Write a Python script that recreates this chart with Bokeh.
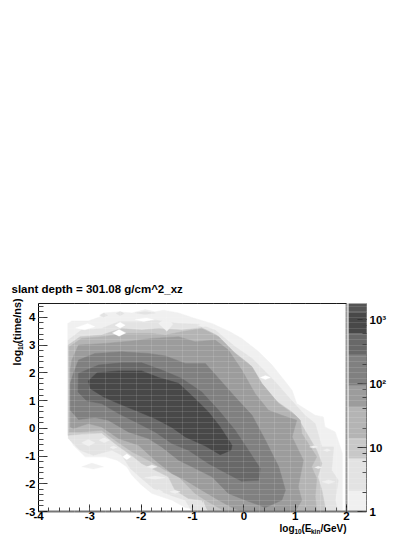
from bokeh.plotting import figure
from bokeh.models import Range1d, LogScale, LogAxis, LinearAxis, FixedTicker, LogTicker, Label
from bokeh.embed import file_html
from bokeh.resources import INLINE
import math

# colour levels of the histogram (counts) and palette, low to high
level_edges = [1, 2.1, 6.7, 13.8, 42, 92, 280, 600, 1270, 1780]
level_colors = ["#f0f0f0", "#e3e3e3", "#c8c8c8", "#b4b4b4", "#9c9c9c", "#808080", "#686868", "#484848", "#555555"]

# contours of log10(time/ns) vs log10(Ekin/GeV), one per level
contour_1 = [(-3.43,-.25),(-3.43,3.78),(-3.35,3.87),(-3.03,3.87),(-2.80,4.02),(-2.73,4.16),(-2.44,4.20),(-2.18,4.16),(-1.92,4.28),(-1.73,4.20),(-1.56,4.26),(-1.27,4.16),(-.95,3.96),(-.62,3.78),(-.27,3.48),(-.04,3.24),(.29,2.76),(.55,2.28),(.81,1.68),(.94,1.37),(1.03,.89),(1.39,.47),(1.55,.41),(1.58,.05),(1.78,-.13),(1.88,-.67),(1.92,-.91),(1.92,-2.93),(1.84,-3),(-.75,-3),(-1.14,-2.86),(-1.40,-2.59),(-1.79,-2.35),(-1.99,-2.05),(-2.18,-1.69),(-2.28,-1.39),(-2.47,-1.15),(-2.70,-1.03),(-3.09,-1.03),(-3.32,-.61)]
contour_2 = [(-3.42,-.37),(-3.42,3.18),(-3.16,3.54),(-2.77,3.60),(-2.44,3.84),(-1.99,3.84),(-1.73,3.90),(-1.27,3.78),(-.88,3.75),(-.56,3.54),(-.17,2.94),(.16,2.52),(.42,2.04),(.61,1.68),(.87,1.13),(1.19,.47),(1.39,.17),(1.52,-.67),(1.75,-.67),(1.71,-1.51),(1.84,-1.87),(1.78,-2.59),(1.84,-3),(-1.01,-3),(-1.14,-2.59),(-1.43,-2.41),(-1.76,-2.17),(-1.99,-1.81),(-2.21,-1.45),(-2.38,-.97),(-2.57,-.79),(-2.93,-.97),(-3.19,-.79)]
contour_3 = [(-3.42,-.25),(-3.42,3.0),(-3.19,3.30),(-2.77,3.36),(-2.38,3.60),(-1.99,3.54),(-1.66,3.60),(-1.21,3.54),(-.82,3.63),(-.53,3.36),(-.20,2.76),(.09,2.34),(.29,1.68),(.61,1.01),(.94,.59),(1.06,.35),(1.19,-.07),(1.42,-.79),(1.52,-1.27),(1.44,-1.75),(1.52,-2.23),(1.60,-3),(-.69,-3),(-.82,-2.59),(-1.08,-2.53),(-1.34,-2.23),(-1.47,-1.75),(-1.99,-1.27),(-2.15,-1.03),(-2.47,-.61),(-2.77,-.17),(-3.16,-.21)]
contour_4 = [(-3.40,-.13),(-3.40,2.94),(-3.16,3.24),(-2.77,3.30),(-2.25,3.42),(-1.79,3.42),(-1.53,3.36),(-1.21,3.48),(-.82,3.60),(-.49,3.30),(-.17,2.70),(.16,2.22),(.35,1.62),(.68,.89),(1.0,.47),(1.10,.29),(1.13,-.19),(1.42,-1.03),(1.32,-1.39),(1.42,-1.81),(1.39,-2.47),(1.42,-3),(-.36,-3),(-.75,-2.59),(-.95,-2.35),(-1.27,-1.75),(-1.53,-1.51),(-1.86,-1.15),(-2.18,-.85),(-2.51,-.43),(-2.77,-.07),(-3.16,-.13)]
contour_5 = [(-3.38,.05),(-3.38,2.1),(-3.35,2.46),(-3.22,3.0),(-2.70,3.06),(-2.18,3.15),(-1.79,3.24),(-1.27,3.30),(-.95,3.12),(-.56,3.18),(-.30,2.82),(-.04,2.10),(.22,1.25),(.48,.65),(.74,.47),(1.03,.29),(.94,-.31),(1.16,-1.15),(1.06,-2.11),(1.13,-2.59),(1.0,-3),(-.04,-3),(-.23,-2.86),(-.49,-2.59),(-.82,-2.23),(-1.14,-1.87),(-1.40,-1.63),(-1.73,-1.15),(-2.05,-.61),(-2.44,-.37),(-2.77,.05),(-3.03,.17),(-3.32,-.01)]
contour_6 = [(-3.38,1.62),(-3.32,1.98),(-3.22,2.46),(-2.90,2.70),(-2.38,2.76),(-1.86,2.70),(-1.53,2.61),(-1.14,2.34),(-.75,2.34),(-.49,1.80),(-.17,1.13),(.16,.47),(.42,-.43),(.68,-1.39),(.81,-2.23),(.74,-2.59),(.42,-2.86),(.03,-2.59),(-.30,-2.35),(-.62,-1.75),(-1.01,-1.39),(-1.27,-1.15),(-1.60,-.67),(-1.86,-.37),(-2.25,-.13),(-2.64,.29),(-2.90,.39),(-3.22,.32),(-3.38,.65)]
contour_7 = [(-3.23,1.31),(-3.22,1.98),(-2.83,2.28),(-2.38,2.36),(-1.99,2.36),(-1.60,2.10),(-1.21,1.80),(-.82,1.31),(-.49,.65),(-.17,-.07),(.09,-.79),(.32,-1.45),(.29,-1.87),(-.04,-1.91),(-.33,-1.63),(-.69,-1.27),(-1.08,-.79),(-1.40,-.55),(-1.73,-.13),(-2.05,.17),(-2.44,.53),(-2.77,.89),(-3.06,.99)]
contour_8 = [(-3.03,1.71),(-2.86,2.0),(-2.44,2.07),(-1.99,2.07),(-1.66,1.83),(-1.27,1.62),(-.95,1.07),(-.69,.59),(-.46,.05),(-.23,-.61),(-.25,-.79),(-.46,-.95),(-.75,-.64),(-1.14,-.31),(-1.40,.03),(-1.73,.35),(-2.12,.65),(-2.44,.89),(-2.73,1.13),(-2.99,1.43)]
contours = [contour_1, contour_2, contour_3, contour_4, contour_5, contour_6, contour_7, contour_8]

# small islands: (colour index, outline); -1 is white
islands = [
    (0, [(-3.16,-1.39),(-2.96,-1.25),(-2.73,-1.39),(-2.93,-1.47)]),
    (-1, [(-3.28,3.62),(-3.04,3.78),(-2.9,3.66),(-3.1,3.55)]),
    (-1, [(-2.51,3.72),(-2.41,3.82),(-2.31,3.72),(-2.41,3.62)]),
    (-1, [(-2.56,3.44),(-2.43,3.56),(-2.3,3.44),(-2.43,3.32)]),
    (0, [(-1.66,3.78),(-1.5,4.0),(-1.38,3.75),(-1.5,3.5)]),
    (-1, [(-2.12,3.92),(-1.9,3.98),(-1.76,3.92),(-1.95,3.85)]),
    (0, [(-.89,3.72),(-.79,3.79),(-.69,3.72),(-.79,3.65)]),
    (1, [(-2.81,4.08),(-2.73,4.16),(-2.65,4.08),(-2.73,4.0)]),
    (1, [(-2.49,4.14),(-2.41,4.22),(-2.33,4.14),(-2.41,4.06)]),
    (1, [(-2.12,4.16),(-1.92,4.22),(-1.72,4.16),(-1.92,4.1)]),
    (0, [(-3.16,-.52),(-3.03,-.4),(-2.9,-.52),(-3.03,-.64)]),
    (0, [(-2.82,-.43),(-2.72,-.34),(-2.62,-.43),(-2.72,-.52)]),
    (0, [(-2.61,-.69),(-2.54,-.64),(-2.47,-.69),(-2.54,-.74)]),
    (-1, [(-2.36,-1.03),(-2.28,-.93),(-2.2,-1.03),(-2.28,-1.13)]),
    (0, [(-1.89,-1.39),(-1.79,-1.32),(-1.69,-1.39),(-1.79,-1.46)]),
    (0, [(-1.93,-1.78),(-1.73,-1.72),(-1.53,-1.78),(-1.73,-1.84)]),
    (0, [(-1.44,-2.29),(-1.34,-2.23),(-1.24,-2.29),(-1.34,-2.35)]),
    (0, [(-1.74,-2.29),(-1.66,-2.21),(-1.58,-2.29),(-1.66,-2.37)]),
    (1, [(-.82,-3),(-.79,-2.62),(-.72,-3)]),
    (0, [(1.28,-.67),(1.36,-.63),(1.44,-.67),(1.36,-.71)]),
    (0, [(1.55,-.79),(1.62,-.74),(1.69,-.79),(1.62,-.84)]),
    (0, [(1.52,-1.93),(1.65,-1.86),(1.78,-1.93),(1.65,-2.0)]),
    (0, [(1.38,-1.41),(1.45,-1.37),(1.52,-1.41),(1.45,-1.45)]),
    (-1, [(.32,1.83),(.42,1.9),(.52,1.83),(.42,1.76)]),
]

x_ticks = [-4, -3, -2, -1, 0, 1, 2]
x_minor = [-4 + i * 0.2 for i in range(31)]
y_ticks = [-3, -2, -1, 0, 1, 2, 3, 4]
y_minor = [-3 + i * 0.2 for i in range(38)]
cell_x = [-3.3 + i * 0.3 for i in range(18)]
cell_y = [-2.8 + i * 0.2 for i in range(37)]
bar_labels = {1: "1", 10: "10", 100: "10\u00b2", 1000: "10\u00b3"}

FONT = "Liberation Sans"
INK = "#1a1a1a"
GREY = "#777777"

# The plot frame fills the whole canvas; the axes are pinned at the histogram's edges.
W, H = 415, 537
LEFT, RIGHT, TOP, BOTTOM = 38, 346, 303, 511
sx = (RIGHT - LEFT) / 6
sy = (BOTTOM - TOP) / 7.5
sbar = (BOTTOM - TOP) / math.log10(level_edges[-1])

p = figure(width=W, height=H, output_backend="svg", toolbar_location=None,
           x_range=Range1d(-4 - LEFT / sx, 2 + (W - RIGHT) / sx),
           y_range=Range1d(-3 - (H - BOTTOM) / sy, 4.5 + TOP / sy),
           min_border=0, outline_line_color=None, background_fill_color="white", border_fill_color="white")
p.extra_y_ranges["bar"] = Range1d(10 ** (-(H - BOTTOM) / sbar), level_edges[-1] * 10 ** (TOP / sbar))
p.extra_y_scales["bar"] = LogScale()

for c, col in zip(contours, level_colors):
    p.patch([a for a, b in c], [b for a, b in c], fill_color=col, line_color=col, line_width=0.5)
for idx, c in islands:
    col = "#ffffff" if idx < 0 else level_colors[idx]
    p.patch([a for a, b in c], [b for a, b in c], fill_color=col, line_color=col, line_width=0.3)

# colour scale
BAR_L, BAR_R = 2.04, 2.39
p.quad(left=BAR_L, right=BAR_R, bottom=level_edges[:-1], top=level_edges[1:],
       fill_color=level_colors, line_color=None, y_range_name="bar")

# faint cell lines over the histogram
p.xgrid.ticker = FixedTicker(ticks=cell_x)
p.ygrid.ticker = FixedTicker(ticks=cell_y)
for g in (p.xgrid[0], p.ygrid[0]):
    g.level = "overlay"
    g.grid_line_color = "white"
    g.grid_line_alpha = 0.12
    g.grid_line_width = 1
p.ygrid[0].bounds = (-4, 2)
p.xgrid[0].bounds = (-3, 4.5)

ax = p.xaxis[0]
ax.fixed_location = -3
ax.ticker = FixedTicker(ticks=x_ticks, minor_ticks=x_minor)
ax.major_label_overrides = {t: str(t) for t in x_ticks}
ax.bounds = (-4, BAR_R)
ax.axis_line_color = GREY
ax.axis_line_width = 2
ax.major_tick_in = 7
ax.major_tick_out = 0
ax.minor_tick_in = 4
ax.minor_tick_out = 0
ax.major_tick_line_color = INK
ax.minor_tick_line_color = "#444444"
ax.major_label_text_font = FONT
ax.major_label_text_font_style = "bold"
ax.major_label_text_font_size = "11.5px"
ax.major_label_text_color = "black"
ax.major_label_standoff = 0

ay = p.yaxis[0]
ay.fixed_location = -4
ay.ticker = FixedTicker(ticks=y_ticks, minor_ticks=y_minor)
ay.major_label_overrides = {t: str(t) for t in y_ticks}
ay.bounds = (-3, 4.5)
ay.axis_line_color = "black"
ay.axis_line_width = 1
ay.major_tick_in = 9
ay.major_tick_out = 0
ay.minor_tick_in = 5
ay.minor_tick_out = 0
ay.major_tick_line_color = INK
ay.minor_tick_line_color = "#333333"
ay.major_label_text_font = FONT
ay.major_label_text_font_style = "bold"
ay.major_label_text_font_size = "11.5px"
ay.major_label_text_color = "black"
ay.major_label_standoff = 3

top = LinearAxis(fixed_location=4.5, ticker=FixedTicker(ticks=[]), bounds=(-4, 2),
                 axis_line_color=INK, axis_line_width=1)
p.add_layout(top, "above")

# right-hand frame of the histogram
p.segment(x0=[2.0], x1=[2.0], y0=[-3], y1=[4.5], line_color="#999999", line_width=2)

bar_axis = LogAxis(y_range_name="bar", fixed_location=BAR_R, ticker=LogTicker(desired_num_ticks=4),
                   major_label_overrides=bar_labels, bounds=(level_edges[0], level_edges[-1]))
bar_axis.axis_line_color = GREY
bar_axis.axis_line_width = 1
bar_axis.major_tick_in = 9
bar_axis.major_tick_out = 0
bar_axis.minor_tick_in = 4
bar_axis.minor_tick_out = 0
bar_axis.major_tick_line_color = "#333333"
bar_axis.minor_tick_line_color = "#444444"
bar_axis.major_label_text_font = FONT
bar_axis.major_label_text_font_style = "bold"
bar_axis.major_label_text_font_size = "11.5px"
bar_axis.major_label_text_color = "black"
bar_axis.major_label_standoff = 3
p.add_layout(bar_axis, "right")


def put(text, wx, wy, size, angle=0.0):
    """Place a text by its left end and baseline, in window pixels."""
    p.add_layout(Label(x=wx, y=H - wy, x_units="screen", y_units="screen", text=text,
                       text_font=FONT, text_font_style="bold", text_font_size=f"{size}px",
                       text_color="black", text_baseline="alphabetic", angle=angle))


put("slant depth = 301.08 g/cm^2_xz", 11, 288, 11.5)
put("log", 279, 528, 10)
put("10", 294, 531, 6.5)
put("(E", 301, 528, 10)
put("kin", 310.5, 531, 6.5)
put("/GeV)", 320, 528, 10)
up = math.pi / 2
put("log", 16.5, 365, 10.5, up)
put("10", 19.5, 349.5, 6.5, up)
put("(time/ns)", 16.5, 343, 10.8, up)

open("out.html", "w").write(file_html(p, INLINE))
